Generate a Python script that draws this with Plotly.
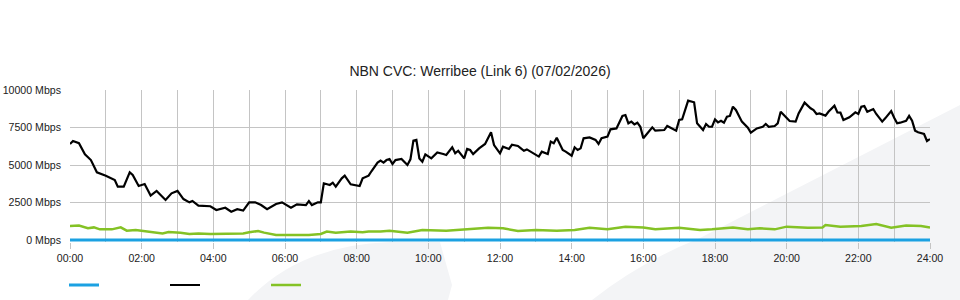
import plotly.graph_objects as go

# ---- data ----
title_text = "NBN CVC: Werribee (Link 6) (07/02/2026)"

x_tick_vals = [0, 120, 240, 360, 480, 600, 720, 840, 960, 1080, 1200, 1320, 1440]
x_tick_text = ["00:00", "02:00", "04:00", "06:00", "08:00", "10:00", "12:00",
               "14:00", "16:00", "18:00", "20:00", "22:00", "24:00"]
y_tick_vals = [0, 2500, 5000, 7500, 10000]
y_tick_text = ["0 Mbps", "2500 Mbps", "5000 Mbps", "7500 Mbps", "10000 Mbps"]

# minutes since midnight
black_t = [0, 5, 15, 25, 35, 45, 60, 75, 80, 90, 100, 105, 115, 125, 135, 145, 160, 170, 180, 190,
           200, 205, 215, 235, 245, 260, 270, 280, 290, 300, 310, 320, 330, 345, 355, 370, 380, 395,
           400, 405, 415, 420, 425, 435, 440, 445, 455, 460, 470, 485, 490, 500, 505, 515, 520, 525,
           530, 535, 540, 545, 555, 565, 570, 575, 580, 585, 590, 595, 605, 615, 625, 630, 640, 645,
           650, 660, 665, 670, 675, 685, 695, 705, 710, 720, 725, 735, 740, 750, 755, 760, 765, 780,
           785, 790, 800, 805, 810, 815, 825, 830, 840, 845, 850, 855, 860, 870, 880, 885, 890, 900,
           905, 915, 925, 930, 935, 940, 945, 950, 955, 960, 965, 975, 980, 995, 1000, 1015, 1020,
           1025, 1035, 1045, 1050, 1060, 1065, 1070, 1075, 1080, 1085, 1090, 1095, 1100, 1105, 1110,
           1115, 1125, 1135, 1140, 1150, 1160, 1165, 1170, 1180, 1185, 1190, 1195, 1205, 1215, 1220,
           1230, 1240, 1245, 1250, 1255, 1265, 1270, 1280, 1285, 1290, 1295, 1305, 1315, 1320, 1325,
           1330, 1335, 1345, 1350, 1360, 1365, 1375, 1380, 1385, 1390, 1400, 1405, 1410, 1415, 1420,
           1430, 1435, 1440]
black_v = [6400, 6600, 6450, 5710, 5330, 4510, 4290, 4000, 3560, 3560, 4510, 4330, 3600, 3730, 2960,
           3270, 2670, 3110, 3270, 2730, 2510, 2600, 2290, 2250, 2000, 2150, 1890, 2050, 1960, 2510,
           2510, 2330, 2050, 2400, 2510, 2150, 2380, 2330, 2600, 2330, 2510, 2510, 3780, 3670, 3820,
           3560, 4110, 4290, 3710, 3600, 4110, 4290, 4600, 5160, 5290, 5160, 5330, 5400, 5070, 5330,
           5400, 5000, 5380, 6620, 6670, 5440, 5220, 5710, 5440, 5840, 5730, 5670, 6180, 5780, 5950,
           5440, 6070, 6000, 5730, 6110, 6400, 7180, 6330, 5780, 6220, 6070, 6350, 6270, 6110, 5950,
           6040, 5710, 5560, 5890, 5730, 6560, 6450, 6820, 6000, 5890, 5620, 6180, 6000, 6110, 6780,
           6840, 6670, 6400, 6780, 6890, 7380, 7440, 8270, 8330, 7780, 7890, 7710, 7820, 7550, 6780,
           7000, 7510, 7290, 7330, 7600, 7290, 8000, 8040, 9290, 9180, 7780, 7330, 7730, 7550, 7550,
           8040, 7840, 7950, 7820, 8220, 8270, 8890, 8670, 7890, 7490, 7150, 7440, 7550, 7730, 7550,
           7600, 7780, 8550, 8330, 7930, 7890, 8440, 9160, 8780, 8660, 8400, 8440, 8290, 8550, 8950,
           8510, 8490, 8000, 8180, 8510, 8400, 8890, 8930, 8550, 8730, 8400, 7890, 8110, 8600, 8150,
           7780, 7820, 7950, 8270, 7950, 7290, 7180, 7070, 6600, 6730]

green_t = [0, 15, 30, 40, 50, 70, 85, 95, 110, 125, 140, 155, 165, 185, 200, 215, 235, 255, 290, 300,
           315, 325, 345, 380, 400, 420, 430, 445, 470, 490, 500, 520, 535, 565, 590, 630, 665, 700,
           725, 750, 780, 815, 845, 870, 900, 930, 960, 980, 1020, 1055, 1075, 1110, 1135, 1155,
           1180, 1200, 1235, 1260, 1265, 1290, 1325, 1350, 1375, 1400, 1425, 1440]
green_v = [933, 960, 780, 840, 710, 710, 840, 620, 670, 600, 490, 440, 530, 490, 400, 440, 400, 400,
           440, 510, 600, 490, 330, 330, 330, 400, 560, 490, 560, 510, 560, 560, 620, 490, 670, 620,
           710, 820, 780, 600, 670, 620, 670, 820, 710, 890, 840, 710, 820, 660, 710, 840, 710, 780,
           710, 890, 820, 840, 1000, 890, 930, 1070, 820, 960, 930, 840]

blue_t = [0, 1440]
blue_v = [0, 0]

# ---- layout helpers ----
W, H = 960, 300
# plot area: x 70..930, y 90..242 (2 px extra below the 0 line so the blue line is not clipped)
ML, MR, MT, MB = 70, 30, 90, 58
PW, PH = W - ML - MR, H - MT - MB
Y_MAX = 10000
Y_MIN = -Y_MAX * 2 / 150   # 2 px below the zero line, keeping 150 px per 10000


def px(x, y):
    """pixel -> paper coordinates"""
    return (x - ML) / PW, (H - MB - y) / PH


def path(cmds):
    out = []
    for c in cmds:
        if isinstance(c, str):
            out.append(c)
        else:
            xp, yp = px(*c)
            out.append(f"{xp:.4f},{yp:.4f}")
    return " ".join(out)


wm_color = "#f3f4f6"
watermark = [
    dict(type="path", xref="paper", yref="paper", layer="below", line_width=0, fillcolor=wm_color,
         path=path(["M", (248, 300), "Q", (300, 245), (390, 242), "L", (440, 242), "L", (452, 285),
                    "L", (448, 300), "Z"])),
    dict(type="path", xref="paper", yref="paper", layer="below", line_width=0, fillcolor=wm_color,
         path=path(["M", (592, 300), "Q", (640, 262), (700, 238), "L", (960, 105), "L", (960, 300), "Z"])),
]

fig = go.Figure()
fig.add_trace(go.Scatter(x=blue_t, y=blue_v, mode="lines", name=" ",
                         line=dict(color="#1ba1e2", width=3)))
fig.add_trace(go.Scatter(x=black_t, y=black_v, mode="lines", name=" ",
                         line=dict(color="#000000", width=2.2)))
fig.add_trace(go.Scatter(x=green_t, y=green_v, mode="lines", name=" ",
                         line=dict(color="#84c225", width=2.5)))

grid = "#c4c4c4"
fig.update_layout(
    width=W, height=H,
    margin=dict(l=ML, r=MR, t=MT, b=MB, pad=0, autoexpand=False),
    paper_bgcolor="white", plot_bgcolor="rgba(0,0,0,0)",
    font=dict(family="Liberation Sans, Arial, sans-serif", size=10.6, color="#222"),
    title=dict(text=title_text, x=0.5, xanchor="center", xref="container",
               y=1 - 71 / H, yanchor="middle", font=dict(size=14, color="#222")),
    showlegend=True,
    legend=dict(orientation="h", x=-6 / PW, xanchor="left", yref="container",
                y=1 - 285 / H, yanchor="middle",
                entrywidth=56, entrywidthmode="pixels", bgcolor="rgba(0,0,0,0)",
                font=dict(size=11)),
    shapes=watermark,
)
fig.update_xaxes(range=[0, 1440], tickmode="array", tickvals=x_tick_vals, ticktext=x_tick_text,
                 showgrid=True, gridcolor=grid, gridwidth=1, zeroline=False, showline=False,
                 ticks="outside", ticklen=6, tickcolor=grid, tickwidth=1, automargin=False,
                 minor=dict(tick0=0, dtick=60, showgrid=True, gridcolor=grid, gridwidth=1, ticks=""),
                 fixedrange=True)
fig.update_yaxes(range=[Y_MIN, Y_MAX], tickmode="array", tickvals=y_tick_vals, ticktext=y_tick_text,
                 showgrid=True, gridcolor=grid, gridwidth=1, zeroline=False, showline=False,
                 ticks="", ticklabelstandoff=8, automargin=False, fixedrange=True)

fig.write_html("out.html", config={"displayModeBar": False})
